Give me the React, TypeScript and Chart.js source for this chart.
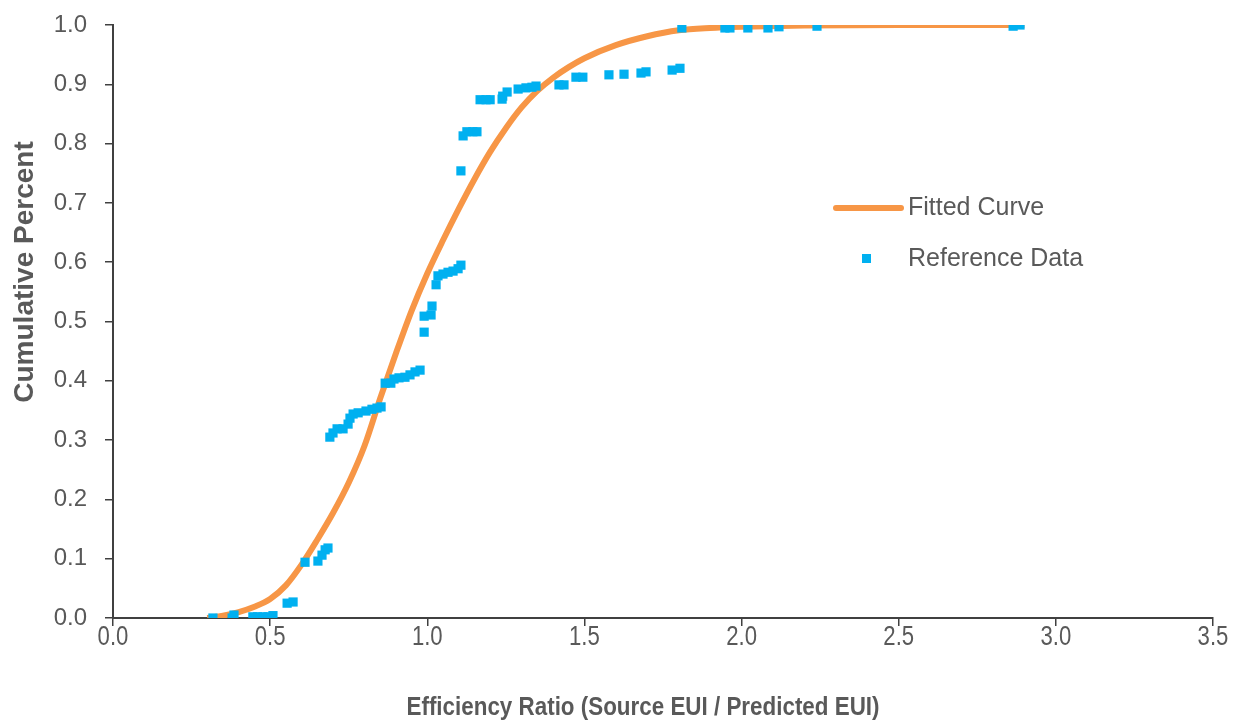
import React, { useEffect, useRef } from "react";
import { Chart, registerables } from "chart.js";

Chart.register(...registerables);

// Fitted curve
const fitX = [0.30, 0.35, 0.40, 0.45, 0.50, 0.55, 0.60, 0.65, 0.70, 0.75, 0.80, 0.85, 0.90, 0.95, 1.00, 1.05, 1.10, 1.15, 1.20, 1.25, 1.30, 1.35, 1.40, 1.45, 1.50, 1.60, 1.70, 1.80, 1.90, 2.00, 2.20, 2.50, 2.90];
const fitY = [0.0, 0.004, 0.010, 0.019, 0.032, 0.055, 0.090, 0.132, 0.177, 0.228, 0.290, 0.370, 0.446, 0.518, 0.581, 0.637, 0.690, 0.740, 0.786, 0.826, 0.861, 0.889, 0.911, 0.929, 0.944, 0.966, 0.981, 0.991, 0.995, 0.997, 0.999, 1.0, 1.0];

// Reference data points
const refX = [0.318, 0.379, 0.385, 0.445, 0.46, 0.477, 0.493, 0.509, 0.554, 0.573, 0.611, 0.652, 0.665, 0.675, 0.684, 0.69, 0.70, 0.713, 0.732, 0.748, 0.754, 0.764, 0.78, 0.805, 0.824, 0.84, 0.853, 0.866, 0.884, 0.894, 0.91, 0.929, 0.945, 0.961, 0.977, 0.99, 0.99, 1.012, 1.015, 1.028, 1.034, 1.05, 1.066, 1.082, 1.098, 1.107, 1.107, 1.114, 1.126, 1.145, 1.158, 1.168, 1.187, 1.2, 1.238, 1.24, 1.254, 1.289, 1.314, 1.333, 1.346, 1.419, 1.435, 1.473, 1.495, 1.578, 1.626, 1.68, 1.696, 1.779, 1.804, 1.81, 1.947, 1.963, 2.02, 2.084, 2.119, 2.24, 2.864, 2.886];
const refY = [0.0, 0.0, 0.005, 0.002, 0.002, 0.002, 0.002, 0.004, 0.025, 0.027, 0.094, 0.096, 0.106, 0.115, 0.118, 0.305, 0.312, 0.319, 0.319, 0.327, 0.337, 0.344, 0.346, 0.349, 0.352, 0.354, 0.356, 0.396, 0.396, 0.403, 0.405, 0.406, 0.41, 0.415, 0.418, 0.482, 0.509, 0.511, 0.526, 0.562, 0.577, 0.58, 0.583, 0.585, 0.589, 0.595, 0.754, 0.813, 0.82, 0.82, 0.82, 0.874, 0.874, 0.874, 0.875, 0.88, 0.887, 0.892, 0.894, 0.895, 0.897, 0.899, 0.899, 0.912, 0.912, 0.916, 0.917, 0.919, 0.921, 0.924, 0.927, 0.995, 0.995, 0.995, 0.995, 0.995, 0.997, 0.998, 0.998, 1.0];

const xTickValues = [0, 0.5, 1.0, 1.5, 2.0, 2.5, 3.0, 3.5];
const yTickValues = [0, 0.1, 0.2, 0.3, 0.4, 0.5, 0.6, 0.7, 0.8, 0.9, 1.0];

const xTitle = "Efficiency Ratio (Source EUI / Predicted EUI)";
const yTitle = "Cumulative Percent";
const fitLabel = "Fitted Curve";
const refLabel = "Reference Data";

const ORANGE = "#F79646";
const BLUE = "#00B0F0";
const TEXT = "#595959";
const AXIS = "#404040";
const SANS = "'Liberation Sans', Arial, sans-serif";

const overlayPlugin = {
  id: "overlay",
  afterDraw(chart: any) {
    const ctx = chart.ctx as CanvasRenderingContext2D;
    ctx.save();
    ctx.fillStyle = TEXT;
    // y title
    ctx.save();
    ctx.translate(25, 272);
    ctx.rotate(-Math.PI / 2);
    ctx.font = `bold 28px ${SANS}`;
    ctx.textAlign = "center";
    ctx.textBaseline = "middle";
    ctx.fillText(yTitle, 0, 0);
    ctx.restore();
    // x tick labels (narrow look)
    const xs = chart.scales.x;
    ctx.font = `27px ${SANS}`;
    ctx.textAlign = "center";
    ctx.textBaseline = "middle";
    xTickValues.forEach((v) => {
      const px = xs.getPixelForValue(v);
      ctx.save();
      ctx.translate(px, 638);
      ctx.scale(0.82, 1);
      ctx.fillText(v.toFixed(1), 0, 0);
      ctx.restore();
    });
    // x title (narrow bold)
    ctx.font = `bold 25px ${SANS}`;
    const w = ctx.measureText(xTitle).width;
    const sx = Math.min(1, 473 / w);
    ctx.save();
    ctx.translate(643, 708);
    ctx.scale(sx, 1);
    ctx.fillText(xTitle, 0, 0);
    ctx.restore();
    // legend
    ctx.strokeStyle = ORANGE;
    ctx.lineWidth = 6;
    ctx.lineCap = "round";
    ctx.beginPath();
    ctx.moveTo(836, 208);
    ctx.lineTo(901, 208);
    ctx.stroke();
    ctx.fillStyle = BLUE;
    ctx.fillRect(862, 254, 9, 9);
    ctx.fillStyle = TEXT;
    ctx.font = `25px ${SANS}`;
    ctx.textAlign = "left";
    ctx.fillText(fitLabel, 908, 208);
    ctx.fillText(refLabel, 908, 259);
    ctx.restore();
  },
};

export default function App() {
  const ref = useRef<HTMLCanvasElement | null>(null);
  useEffect(() => {
    if (!ref.current) return;
    const chart = new Chart(ref.current, {
      type: "scatter",
      data: {
        datasets: [
          {
            label: refLabel,
            data: refX.map((x, i) => ({ x, y: refY[i] })),
            pointStyle: "rect",
            pointRadius: 6.5,
            pointBackgroundColor: BLUE,
            pointBorderWidth: 0,
            borderColor: BLUE,
            showLine: false,
            order: 0,
          },
          {
            label: fitLabel,
            type: "line",
            data: fitX.map((x, i) => ({ x, y: fitY[i] })),
            borderColor: ORANGE,
            borderWidth: 6,
            pointRadius: 0,
            cubicInterpolationMode: "monotone",
            fill: false,
            order: 1,
          } as any,
        ],
      },
      options: {
        animation: false,
        responsive: true,
        maintainAspectRatio: false,
        layout: { padding: { top: 25, right: 27, left: 0, bottom: 0 } },
        plugins: { legend: { display: false }, tooltip: { enabled: false } },
        scales: {
          x: {
            type: "linear",
            min: 0,
            max: 3.5,
            afterBuildTicks: (s: any) => {
              s.ticks = xTickValues.map((v) => ({ value: v }));
            },
            afterFit: (s: any) => {
              s.height = 105;
              s.paddingLeft = 0;
              s.paddingRight = 0;
            },
            ticks: { display: false },
            grid: { display: true, drawOnChartArea: false, drawTicks: true, tickLength: 8, color: AXIS, lineWidth: 1.5 },
            border: { display: true, color: AXIS, width: 2 },
          },
          y: {
            type: "linear",
            min: 0,
            max: 1,
            afterBuildTicks: (s: any) => {
              s.ticks = yTickValues.map((v) => ({ value: v }));
            },
            afterFit: (s: any) => {
              s.width = 113;
              s.paddingTop = 0;
              s.paddingBottom = 0;
            },
            ticks: {
              color: TEXT,
              font: { family: SANS, size: 24 },
              padding: 18,
              callback: (v: any) => Number(v).toFixed(1),
            },
            grid: { display: true, drawOnChartArea: false, drawTicks: true, tickLength: 8, color: AXIS, lineWidth: 1.5 },
            border: { display: true, color: AXIS, width: 2 },
          },
        },
      },
      plugins: [overlayPlugin],
    });
    return () => chart.destroy();
  }, []);
  return (
    <div style={{ position: "fixed", left: 0, top: 0, width: 1240, height: 723, background: "#fff" }}>
      <canvas ref={ref} />
    </div>
  );
}
